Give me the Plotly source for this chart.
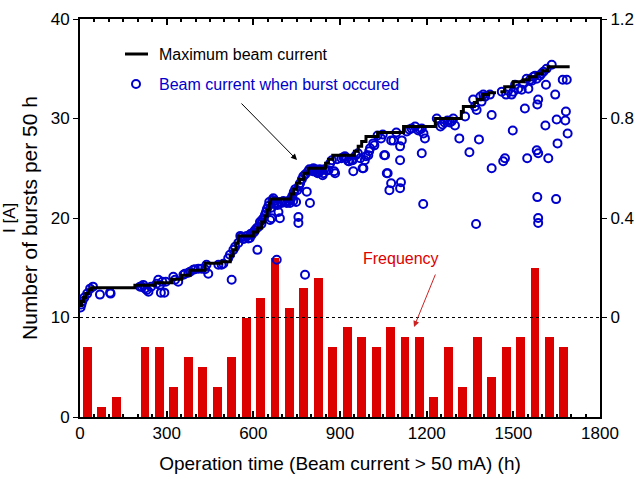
import plotly.graph_objects as go

# ---- Frequency histogram (bursts per 50 h bin) ----
bin_center_h = [25, 75, 125, 175, 225, 275, 325, 375, 425, 475, 525, 575, 625, 675, 725, 775, 825,
                 875, 925, 975, 1025, 1075, 1125, 1175, 1225, 1275, 1325, 1375, 1425, 1475, 1525,
                 1575, 1625, 1675]
bursts_per_50h = [7, 1, 2, 0, 7, 7, 3, 6, 5, 3, 6, 10, 12, 16, 11, 13, 14,
                  7, 9, 8, 7, 9, 8, 8, 2, 7, 3, 8, 4, 7, 8,
                  15, 8, 7]

# ---- Maximum beam current (step line), A ----
max_t_h = [0, 5, 12, 20, 30, 40, 190, 260, 317, 352, 381, 433, 490, 520, 530, 540, 548, 600, 615,
           629, 640, 648, 655, 660, 730, 740, 750, 760, 775, 790, 850, 860, 875, 950, 963, 975,
           990, 1030, 1120, 1230, 1320, 1327, 1365, 1375, 1395, 1415, 1440, 1447, 1455, 1470,
           1500, 1535, 1555, 1580, 1600, 1620, 1695]
max_I_A = [0.048, 0.064, 0.080, 0.096, 0.112, 0.120, 0.130, 0.140, 0.154, 0.170, 0.190, 0.218,
           0.224, 0.248, 0.272, 0.300, 0.328, 0.344, 0.360, 0.384, 0.408, 0.432, 0.460, 0.476,
           0.496, 0.516, 0.540, 0.556, 0.580, 0.600, 0.620, 0.636, 0.652, 0.668, 0.688, 0.708,
           0.728, 0.744, 0.768, 0.800, 0.828, 0.848, 0.864, 0.876, 0.896, 0.904, 0.904, None,
           0.908, 0.928, 0.948, 0.956, 0.968, 0.980, 0.992, 1.008, 1.008]

# ---- Beam current when burst occurred, A ----
burst_t_h = [
    2, 5, 8, 15, 25, 35, 45,
    69,
    104, 106,
    208, 214, 219, 225, 231, 237, 246,
    265, 271, 277, 280, 285, 292, 297,
    323, 329, 340,
    358, 363, 375, 381, 392, 398,
    410, 421, 433, 438, 444,
    479, 490, 496,
    513, 519, 525, 531, 537, 548,
    555, 560, 565, 571, 577, 583, 588, 590, 594, 597,
    603, 606, 612, 614, 617, 623, 628, 630, 635, 640, 644, 647,
    652, 655, 658, 660, 663, 666, 669, 672, 676, 681, 681, 684, 687, 692, 695, 698,
    704, 710, 716, 722, 727, 730, 735, 738, 740, 745, 748,
    752, 756, 756, 758, 762, 768, 773, 779, 780, 785, 790, 794, 796,
    803, 806, 808, 812, 815, 818, 823, 825, 828, 830, 835, 840, 842, 846,
    852, 860, 866, 872, 880, 883, 890,
    905, 912, 917, 923, 929, 932, 940, 944, 946,
    955, 962, 970, 978, 981, 986, 990, 998,
    1001, 1004, 1015, 1019, 1030, 1042, 1048,
    1053, 1056, 1062, 1065, 1071, 1077, 1077, 1085, 1095,
    1108, 1108, 1111, 1108, 1114, 1131, 1140, 1148,
    1160, 1171, 1177, 1183, 1189, 1194, 1183, 1188,
    1235, 1248,
    1255, 1262, 1272, 1280, 1286, 1292, 1298,
    1313, 1333, 1348,
    1361, 1367, 1371, 1373, 1381, 1386, 1390, 1396,
    1402, 1419, 1425, 1425,
    1460, 1465, 1471, 1475, 1482, 1494, 1498,
    1500, 1506, 1517, 1529, 1535, 1540, 1546, 1548,
    1552, 1558, 1564, 1569, 1575, 1581, 1583, 1586, 1581, 1586, 1583, 1586, 1586, 1592, 1597,
    1604, 1611, 1613, 1615, 1621, 1633, 1645, 1648,
    1650, 1653, 1671, 1685, 1682, 1680, 1688,
]
burst_I_A = [
    0.040, 0.052, 0.064, 0.080, 0.096, 0.116, 0.124,
    0.092,
    0.100, 0.096,
    0.124, 0.124, 0.131, 0.117, 0.111, 0.104, 0.124,
    0.136, 0.152, 0.131, 0.100, 0.144, 0.100, 0.144,
    0.164, 0.152, 0.144,
    0.172, 0.176, 0.180, 0.184, 0.192, 0.194,
    0.196, 0.196, 0.194, 0.212, 0.176,
    0.212, 0.212, 0.216,
    0.238, 0.252, 0.152, 0.272, 0.284, 0.300,
    0.328, 0.324, 0.316, 0.318, 0.328, 0.318, 0.320, 0.336, 0.332, 0.340,
    0.344, 0.352, 0.360, 0.272, 0.364, 0.384, 0.376, 0.392, 0.399, 0.412, 0.424, 0.436,
    0.448, 0.464, 0.392, 0.440, 0.399, 0.472, 0.479, 0.456, 0.468, 0.460, 0.232, 0.452, 0.424, 0.399, 0.464, 0.460,
    0.468, 0.464, 0.460, 0.468, 0.460, 0.476, 0.488, 0.468, 0.504, 0.516, 0.464,
    0.512, 0.404, 0.380, 0.528, 0.540, 0.556, 0.568, 0.172, 0.576, 0.506, 0.588, 0.596, 0.460,
    0.592, 0.588, 0.600, 0.592, 0.596, 0.584, 0.580, 0.588, 0.584, 0.596, 0.592, 0.572, 0.580, 0.596,
    0.592, 0.592, 0.620, 0.632, 0.588, 0.580, 0.636,
    0.640, 0.644, 0.648, 0.640, 0.628, 0.628, 0.632, 0.632, 0.588,
    0.652, 0.660, 0.640, 0.600, 0.600, 0.632, 0.648, 0.652,
    0.668, 0.680, 0.700, 0.692, 0.732, 0.720, 0.736,
    0.652, 0.652, 0.580, 0.580, 0.512, 0.540, 0.712, 0.712, 0.744,
    0.688, 0.632, 0.544, 0.520, 0.712, 0.748, 0.756, 0.760,
    0.768, 0.752, 0.756, 0.760, 0.740, 0.720, 0.660, 0.456,
    0.800, 0.768,
    0.776, 0.784, 0.792, 0.784, 0.788, 0.800, 0.772,
    0.720, 0.808, 0.664,
    0.876, 0.848, 0.376, 0.834, 0.716, 0.888, 0.868, 0.896,
    0.888, 0.896, 0.814, 0.600,
    0.908, 0.628, 0.640, 0.896, 0.912, 0.896, 0.752,
    0.908, 0.936, 0.920, 0.916, 0.940, 0.840, 0.960, 0.640,
    0.920, 0.956, 0.952, 0.968, 0.972, 0.960, 0.856, 0.876, 0.672, 0.660, 0.484, 0.400, 0.380, 0.972, 0.980,
    0.988, 0.772, 0.936, 1.000, 0.640, 1.016, 0.896, 0.476,
    0.796, 0.700, 0.956, 0.956, 0.828, 0.792, 0.740,
]

x_tick_vals = [0, 300, 600, 900, 1200, 1500, 1800]
y_tick_vals = [0, 10, 20, 30, 40]
y2_tick_vals = [0, 0.4, 0.8, 1.2]
y2_tick_text = ["0", "0.4", "0.8", "1.2"]

FONT = "Arial, Liberation Sans, sans-serif"
RED = "#dd0000"
BLUE = "#0000cc"

fig = go.Figure()
fig.add_trace(go.Bar(x=bin_center_h, y=bursts_per_50h, width=31, marker=dict(color=RED, line=dict(width=0)),
                     name="Frequency", showlegend=False))
fig.add_trace(go.Scatter(x=burst_t_h, y=burst_I_A, yaxis="y2", mode="markers",
                         marker=dict(symbol="circle-open", size=8, color=BLUE, line=dict(width=2, color=BLUE)),
                         name="Beam current when burst occured", showlegend=False))
fig.add_trace(go.Scatter(x=max_t_h, y=max_I_A, yaxis="y2", mode="lines", line_shape="hv",
                         line=dict(color="black", width=3), connectgaps=False,
                         name="Maximum beam current", showlegend=False))

W, H = 636, 479
L, R, T, B = 80, 36, 19, 62
pw, ph = W - L - R, H - T - B


def px(xp):
    return (xp - L) / pw


def py(yp):
    return (H - B - yp) / ph


fig.update_layout(
    width=W, height=H,
    margin=dict(l=L, r=R, t=T, b=B, autoexpand=False),
    paper_bgcolor="white", plot_bgcolor="white",
    font=dict(family=FONT, color="black", size=17),
    xaxis=dict(range=[0, 1800], tickvals=x_tick_vals, ticks="inside", ticklen=6, tickwidth=1.5,
               tickcolor="black", showline=True, linewidth=2, linecolor="black", mirror="ticks",
               showgrid=False, zeroline=False, tickfont=dict(size=17),
               minor=dict(dtick=50, ticks="inside", ticklen=3, tickcolor="black", showgrid=False),
               title=dict(text="Operation time (Beam current > 50 mA) (h)", font=dict(size=19), standoff=14)),
    yaxis=dict(range=[0, 40], tickvals=y_tick_vals, ticks="outside", ticklen=5, tickcolor="black",
               showline=True, linewidth=2, linecolor="black", showgrid=False, zeroline=False,
               tickfont=dict(size=17),
               title=dict(text="Number of bursts per 50 h", font=dict(size=21), standoff=7)),
    yaxis2=dict(range=[-0.4, 1.2], overlaying="y", side="right", tickvals=y2_tick_vals,
                ticktext=y2_tick_text, ticks="outside", ticklen=5, tickcolor="black",
                showline=True, linewidth=2, linecolor="black", showgrid=False, zeroline=False,
                tickfont=dict(size=17)),
    bargap=0,
)

# dotted reference line at I = 0
fig.add_shape(type="line", xref="paper", x0=0, x1=1, yref="y2", y0=0, y1=0,
              line=dict(color="black", width=1, dash="dot"))

# custom legend
fig.add_shape(type="line", xref="paper", yref="paper", x0=px(125), x1=px(148), y0=py(54), y1=py(54),
              line=dict(color="black", width=3))
fig.add_shape(type="circle", xref="paper", yref="paper", x0=px(132), x1=px(140), y0=py(88), y1=py(80),
              line=dict(color=BLUE, width=2))
fig.add_annotation(xref="paper", yref="paper", x=px(157), y=py(54), xanchor="left", yanchor="middle",
                   text="Maximum beam current", showarrow=False, font=dict(size=16, color="black"))
fig.add_annotation(xref="paper", yref="paper", x=px(157), y=py(84), xanchor="left", yanchor="middle",
                   text="Beam current when burst occured", showarrow=False, font=dict(size=16, color=BLUE))

# pointer arrows
fig.add_annotation(xref="paper", yref="paper", x=px(297), y=py(160), ax=-57, ay=-58, text="",
                   showarrow=True, arrowhead=2, arrowsize=1.2, arrowwidth=1, arrowcolor="black")
fig.add_annotation(xref="paper", yref="paper", x=px(441), y=py(258), text="Frequency", showarrow=False,
                   font=dict(size=16, color=RED))
fig.add_annotation(xref="paper", yref="paper", x=px(414), y=py(327), ax=22, ay=-54, text="",
                   showarrow=True, arrowhead=2, arrowsize=1.2, arrowwidth=1, arrowcolor="#cc2222")

# label at the left edge (kept fully visible)
fig.add_annotation(xref="paper", yref="paper", x=px(9), y=py(218), text="I [A]", textangle=-90,
                   showarrow=False, font=dict(size=17, color="black"), xanchor="center", yanchor="middle")

fig.write_html("out.html")
